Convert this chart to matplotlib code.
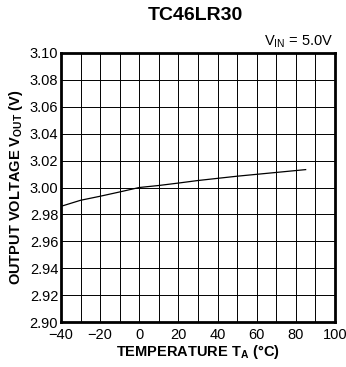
import matplotlib
matplotlib.use("Agg")
import matplotlib.pyplot as plt

# data
temp = [-40, -30, -20, -10, 0, 10, 20, 30, 40, 50, 60, 70, 85]
vout = [2.986, 2.9905, 2.9935, 2.9967, 3.000, 3.0015, 3.0033, 3.0052,
        3.0068, 3.0084, 3.0098, 3.0112, 3.0133]

xticks = [-40, -20, 0, 20, 40, 60, 80, 100]
yticks = [2.90, 2.92, 2.94, 2.96, 2.98, 3.00, 3.02, 3.04, 3.06, 3.08, 3.10]

plt.rcParams['font.family'] = ['Liberation Sans', 'DejaVu Sans']
plt.rcParams['mathtext.fontset'] = 'custom'
plt.rcParams['mathtext.rm'] = 'Liberation Sans'
plt.rcParams['mathtext.bf'] = 'Liberation Sans:bold'

fig = plt.figure(figsize=(3.46, 3.67), dpi=100)
ax = fig.add_axes([61/346, 1 - 322/367, 274/346, 269/367])

ax.plot(temp, vout, color='black', lw=0.9)

ax.set_xlim(-40, 100)
ax.set_ylim(2.90, 3.10)
ax.set_xticks(xticks)
ax.set_yticks(yticks)
ax.set_xticklabels(['\u221240', '\u221220', '0', '20', '40', '60', '80', '100'])
ax.set_yticklabels([f"{v:.2f}" for v in yticks])
ax.set_xticks(range(-40, 101, 10), minor=True)
ax.grid(True, which='both', color='black', lw=0.7)
ax.tick_params(which='both', length=0, labelsize=10.5)
ax.tick_params(axis='x', pad=4)
ax.tick_params(axis='y', pad=2)
for s in ax.spines.values():
    s.set_linewidth(2)

ax.set_xlabel(r'TEMPERATURE T$_{\mathbf{A}}$ ($\mathbf{°}$C)', fontsize=10.5, fontweight='bold', labelpad=1)
ax.set_ylabel(r'OUTPUT VOLTAGE V$_{\mathbf{OUT}}$ (V)', fontsize=10.5, fontweight='bold', labelpad=3)

fig.text(195/346, 1 - 16/367, 'TC46LR30', ha='center', va='center', fontsize=14, fontweight='bold')
fig.text(333/346, 1 - 42/367, r'V$_{\mathrm{IN}}$ = 5.0V', ha='right', va='center', fontsize=10.5)

fig.savefig('out.png', dpi=100)
